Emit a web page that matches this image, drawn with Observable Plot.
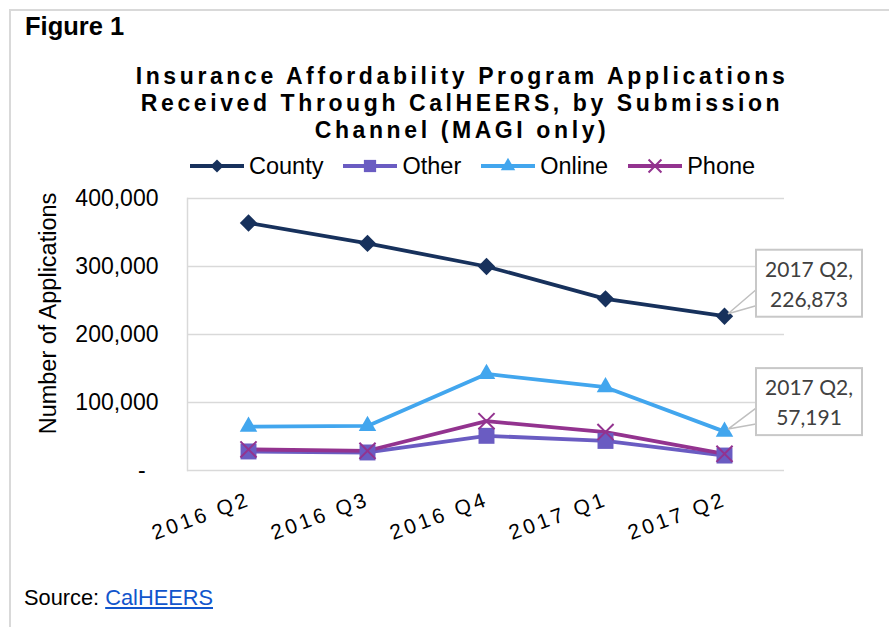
<!DOCTYPE html>
<html>
<head>
<meta charset="utf-8">
<script src="https://cdn.jsdelivr.net/npm/d3@7"></script>
<script src="https://cdn.jsdelivr.net/npm/@observablehq/plot@0.6"></script>
<style>
  html, body { margin: 0; padding: 0; background: #fff; }
  body { width: 889px; height: 627px; position: relative; overflow: hidden; font-family: "Liberation Sans", Arial, sans-serif; }
  #border { position: absolute; left: 9px; top: 9px; width: 920px; height: 700px; border-left: 2px solid #d9d9d9; border-top: 2px solid #d9d9d9; z-index: 5; pointer-events: none; }
  #fig { position: absolute; left: 25px; top: 14px; font-size: 25.5px; line-height: 25px; font-weight: bold; color: #000; z-index: 3; }
  #title { position: absolute; left: 0; top: 63px; width: 924px; text-align: center; font-size: 23px; line-height: 27px; font-weight: bold; letter-spacing: 3.6px; color: #000; z-index: 3; }
  #legend { position: absolute; left: 190px; top: 152px; display: flex; gap: 20px; align-items: center; font-size: 23.5px; line-height: 28px; z-index: 3; }
  #legend .item { display: flex; align-items: center; gap: 5px; }
  #source { position: absolute; left: 24px; top: 586px; font-size: 21.8px; line-height: 24px; z-index: 3; }
  #source a { color: #1155cc; text-decoration: underline; }
  #chart { position: absolute; left: 0; top: 0; z-index: 1; }
</style>
</head>
<body>
<div id="border"></div>
<div id="fig">Figure 1</div>
<div id="title">Insurance Affordability Program Applications<br>Received Through CalHEERS, by Submission<br>Channel (MAGI only)</div>
<div id="legend"></div>
<div id="chart"></div>
<div id="source">Source: <a href="#">CalHEERS</a></div>
<script>
// ---- data ----
const quarters = ["2016 Q2", "2016 Q3", "2016 Q4", "2017 Q1", "2017 Q2"];
const seriesNames = ["County", "Other", "Online", "Phone"];
const county = [364000, 334000, 300000, 252500, 226873];
const other  = [28000, 26500, 51000, 43500, 22000];
const online = [64500, 65500, 142000, 122500, 57191];
const phone  = [31000, 29000, 72500, 56500, 24500];
const yTicks = [0, 100000, 200000, 300000, 400000];
const calloutSeries = ["County", "Online"];

// ---- styles ----
const colors = {County: "#17315c", Other: "#6a5cc2", Online: "#42a6ee", Phone: "#93338f"};
const symbols = {County: "diamond2", Other: "square", Online: "triangle", Phone: "times"};
const radii = {County: 7.8, Other: 9, Online: 6.5, Phone: 7.4};
const valuesBy = {County: county, Other: other, Online: online, Phone: phone};

const rows = seriesNames.flatMap(s => quarters.map((q, i) => ({series: s, quarter: q, value: valuesBy[s][i]})));

const fmt = d3.format(",");
const marks = [
  Plot.gridY(yTicks, {stroke: "#d9d9d9", strokeOpacity: 1, strokeWidth: 1.5}),
  Plot.frame({anchor: "left", stroke: "#d9d9d9", strokeWidth: 1.5}),
  Plot.axisY(yTicks, {tickSize: 0, tickPadding: 29, fontSize: 23, fill: "#000",
    tickFormat: d => d === 0 ? "-\u00a0\u00a0" : fmt(d), label: null}),
  Plot.text(["Number of Applications"], {frameAnchor: "left", textAnchor: "middle", lineAnchor: "middle", dx: -139, dy: -21, rotate: -90, fontSize: 23.5, fill: "#000"}),
  Plot.text(quarters, {x: d => d, frameAnchor: "bottom", dy: 28, dx: 1, rotate: -20, textAnchor: "end", lineAnchor: "middle", fontSize: 21, fill: "#000"})
];
for (const s of seriesNames) {
  const data = rows.filter(r => r.series === s);
  marks.push(Plot.line(data, {x: "quarter", y: "value", stroke: colors[s], strokeWidth: 3.8}));
}
for (const s of seriesNames) {
  const data = rows.filter(r => r.series === s);
  if (symbols[s] === "times") {
    marks.push(Plot.dot(data, {x: "quarter", y: "value", symbol: () => "times", r: radii[s], stroke: colors[s], strokeWidth: 2, fill: "none"}));
  } else {
    marks.push(Plot.dot(data, {x: "quarter", y: "value", symbol: () => symbols[s], r: radii[s], fill: colors[s], stroke: "none"}));
  }
}

const chart = Plot.plot({
  width: 889,
  height: 627,
  marginTop: 198,
  marginBottom: 157,
  marginLeft: 187,
  marginRight: 105,
  style: {background: "transparent", fontFamily: "'Liberation Sans', Arial, sans-serif"},
  x: {type: "point", domain: quarters, padding: 0.5, axis: null},
  y: {domain: [0, 400000], axis: null},
  symbol: {type: "identity"},
  marks
});
document.getElementById("chart").appendChild(chart);

// letter spacing for the rotated quarter labels
d3.select(chart).selectAll("text")
  .filter(function() { return (this.getAttribute("transform") || "").includes("rotate(-20)") || quarters.includes(this.textContent); })
  .style("letter-spacing", "3.2px");

// ---- callouts ----
const xs = chart.scale("x"), ys = chart.scale("y");
const calloutOffsets = {County: {top: -66, h: 67, a: -26, b: -10}, Online: {top: -63, h: 67, a: -23, b: -7}};
const svg = d3.select(chart);
for (const s of calloutSeries) {
  const q = quarters[quarters.length - 1];
  const v = valuesBy[s][quarters.length - 1];
  const px = xs.apply(q), py = ys.apply(v);
  const o = calloutOffsets[s];
  const bx = px + 32, bw = 106;
  const g = svg.append("g");
  g.append("polyline")
    .attr("points", `${bx},${py + o.a} ${px + 4},${py - 2} ${bx},${py + o.b}`)
    .attr("fill", "none").attr("stroke", "#bfbfbf").attr("stroke-width", 1.5);
  g.append("rect").attr("x", bx).attr("y", py + o.top).attr("width", bw).attr("height", o.h)
    .attr("fill", "#fff").attr("stroke", "#c8c8c8").attr("stroke-width", 2);
  const lines = [q + ",", fmt(v)];
  lines.forEach((t, i) => {
    g.append("text").attr("x", bx + bw / 2).attr("y", py + o.top + 27 + i * 30)
      .attr("text-anchor", "middle").attr("font-family", "Lato, 'Open Sans', sans-serif")
      .attr("font-size", 21).attr("fill", "#404040").text(t);
  });
}

// ---- legend ----
const legend = d3.select("#legend");
for (const s of seriesNames) {
  const item = legend.append("div").attr("class", "item");
  const sw = item.append("svg").attr("width", 54).attr("height", 20);
  sw.append("line").attr("x1", 0).attr("x2", 54).attr("y1", 10).attr("y2", 10)
    .attr("stroke", colors[s]).attr("stroke-width", 4);
  const symMap = {diamond2: d3.symbolDiamond2, square: d3.symbolSquare, triangle: d3.symbolTriangle, times: d3.symbolTimes};
  const size = {County: 110, Other: 150, Online: 90, Phone: 110}[s];
  const p = sw.append("path").attr("transform", "translate(27,10)").attr("d", d3.symbol(symMap[symbols[s]], size)());
  if (symbols[s] === "times") p.attr("fill", "none").attr("stroke", colors[s]).attr("stroke-width", 2);
  else p.attr("fill", colors[s]);
  item.append("span").text(s);
}
</script>
</body>
</html>
